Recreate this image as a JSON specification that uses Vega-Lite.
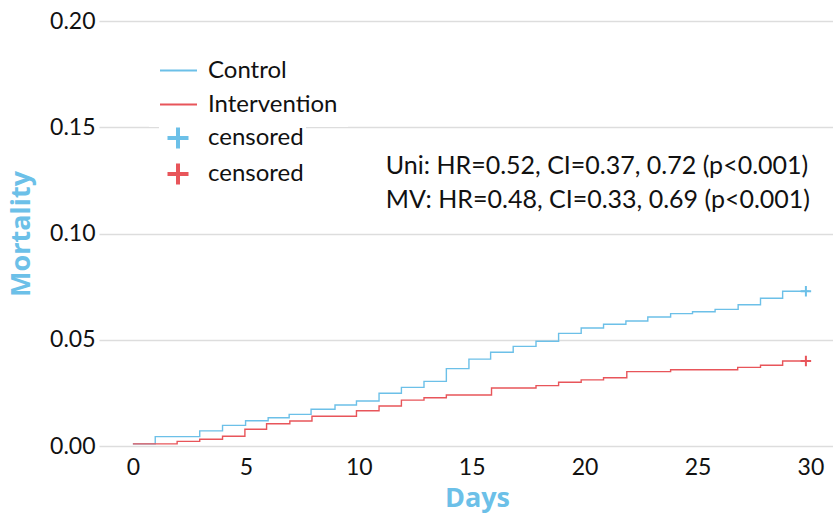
{
  "$schema": "https://vega.github.io/schema/vega-lite/v6.json",
  "autosize": "none",
  "width": 734,
  "height": 425,
  "padding": {"left": 99, "top": 21, "right": 0, "bottom": 67},
  "background": "white",
  "config": {
    "font": "Lato",
    "view": {"stroke": null},
    "axis": {"labelFont": "Lato", "labelFontSize": 23, "labelColor": "#111111", "titleFont": "Open Sans", "titleFontWeight": "bold", "titleFontSize": 27, "titleColor": "#6cc0e8", "domain": false, "ticks": false},
    "legend": {"labelFont": "Lato", "labelFontSize": 24, "labelColor": "#111111", "padding": 10, "fillColor": "white", "labelOffset": 10, "rowPadding": 2, "symbolSize": 1369, "title": null, "orient": "none"}
  },
  "resolve": {"scale": {"color": "independent"}},
  "layer": [
    {
      "data": {"values": [
        {"day": 0, "value": 0.001, "group": "Control"},
        {"day": 0.99, "value": 0.0044, "group": "Control"},
        {"day": 2.96, "value": 0.0071, "group": "Control"},
        {"day": 3.97, "value": 0.0097, "group": "Control"},
        {"day": 4.99, "value": 0.0119, "group": "Control"},
        {"day": 5.99, "value": 0.0133, "group": "Control"},
        {"day": 6.92, "value": 0.0149, "group": "Control"},
        {"day": 7.89, "value": 0.0173, "group": "Control"},
        {"day": 8.95, "value": 0.0193, "group": "Control"},
        {"day": 9.9, "value": 0.0212, "group": "Control"},
        {"day": 10.9, "value": 0.0248, "group": "Control"},
        {"day": 11.89, "value": 0.0276, "group": "Control"},
        {"day": 12.89, "value": 0.0304, "group": "Control"},
        {"day": 13.88, "value": 0.0364, "group": "Control"},
        {"day": 14.88, "value": 0.0409, "group": "Control"},
        {"day": 15.84, "value": 0.0441, "group": "Control"},
        {"day": 16.84, "value": 0.0469, "group": "Control"},
        {"day": 17.85, "value": 0.0493, "group": "Control"},
        {"day": 18.85, "value": 0.053, "group": "Control"},
        {"day": 19.85, "value": 0.0555, "group": "Control"},
        {"day": 20.84, "value": 0.0573, "group": "Control"},
        {"day": 21.83, "value": 0.0588, "group": "Control"},
        {"day": 22.8, "value": 0.0607, "group": "Control"},
        {"day": 23.81, "value": 0.0623, "group": "Control"},
        {"day": 24.78, "value": 0.0632, "group": "Control"},
        {"day": 25.78, "value": 0.0643, "group": "Control"},
        {"day": 26.8, "value": 0.0665, "group": "Control"},
        {"day": 27.79, "value": 0.0695, "group": "Control"},
        {"day": 28.77, "value": 0.0728, "group": "Control"},
        {"day": 29.96, "value": 0.0728, "group": "Control"},
        {"day": 0, "value": 0.001, "group": "Intervention"},
        {"day": 1.96, "value": 0.0022, "group": "Intervention"},
        {"day": 2.96, "value": 0.0032, "group": "Intervention"},
        {"day": 3.97, "value": 0.0046, "group": "Intervention"},
        {"day": 4.96, "value": 0.0079, "group": "Intervention"},
        {"day": 5.92, "value": 0.0105, "group": "Intervention"},
        {"day": 6.95, "value": 0.0118, "group": "Intervention"},
        {"day": 7.93, "value": 0.014, "group": "Intervention"},
        {"day": 9.9, "value": 0.0166, "group": "Intervention"},
        {"day": 10.9, "value": 0.0188, "group": "Intervention"},
        {"day": 11.89, "value": 0.0216, "group": "Intervention"},
        {"day": 12.89, "value": 0.0227, "group": "Intervention"},
        {"day": 13.88, "value": 0.024, "group": "Intervention"},
        {"day": 15.88, "value": 0.0273, "group": "Intervention"},
        {"day": 17.85, "value": 0.0284, "group": "Intervention"},
        {"day": 18.85, "value": 0.03, "group": "Intervention"},
        {"day": 19.85, "value": 0.0311, "group": "Intervention"},
        {"day": 20.84, "value": 0.0321, "group": "Intervention"},
        {"day": 21.87, "value": 0.035, "group": "Intervention"},
        {"day": 23.81, "value": 0.0359, "group": "Intervention"},
        {"day": 26.78, "value": 0.037, "group": "Intervention"},
        {"day": 27.79, "value": 0.038, "group": "Intervention"},
        {"day": 28.77, "value": 0.04, "group": "Intervention"},
        {"day": 29.96, "value": 0.04, "group": "Intervention"}
      ]},
      "mark": {"type": "line", "interpolate": "step-after", "strokeWidth": 1.4},
      "encoding": {
        "x": {"field": "day", "type": "quantitative", "scale": {"domain": [-1.5, 31], "nice": false, "zero": false},
          "axis": {"values": [0, 5, 10, 15, 20, 25, 30], "grid": false, "title": "Days", "labelPadding": 10, "titlePadding": 6, "titleX": 378}},
        "y": {"field": "value", "type": "quantitative", "scale": {"domain": [0, 0.2], "nice": false},
          "axis": {"values": [0, 0.05, 0.1, 0.15, 0.2], "format": ".2f", "grid": true, "gridColor": "#dddddd", "gridWidth": 1.5, "labelPadding": 4, "title": "Mortality", "titlePadding": 14}},
        "color": {"field": "group", "type": "nominal",
          "scale": {"domain": ["Control", "Intervention"], "range": ["#6cc0e8", "#e8555a"]},
          "legend": {"legendX": 50, "legendY": 20, "symbolType": "stroke", "symbolStrokeWidth": 2}}
      }
    },
    {
      "data": {"values": [
        {"day": 29.8, "value": 0.0728, "cgroup": "censored "},
        {"day": 29.8, "value": 0.04, "cgroup": "censored"}
      ]},
      "mark": {"type": "point", "shape": "M-1,0L1,0M0,-1L0,1", "size": 110, "strokeWidth": 2, "filled": false, "opacity": 1},
      "encoding": {
        "x": {"field": "day", "type": "quantitative"},
        "y": {"field": "value", "type": "quantitative"},
        "color": {"field": "cgroup", "type": "nominal",
          "scale": {"domain": ["censored ", "censored"], "range": ["#6cc0e8", "#e8555a"]},
          "legend": {"legendX": 60, "legendY": 98, "padding": 2, "rowPadding": -12, "labelOffset": 13, "symbolSize": 900, "symbolType": "M-0.7,0L0.7,0M0,-0.7L0,0.7", "symbolStrokeWidth": 4, "symbolOpacity": 1}}
      }
    },
    {
      "data": {"values": [
        {"day": 11.2, "value": 0.1318, "label": "Uni: HR=0.52, CI=0.37, 0.72 (p<0.001)"},
        {"day": 11.2, "value": 0.1158, "label": "MV: HR=0.48, CI=0.33, 0.69 (p<0.001)"}
      ]},
      "mark": {"type": "text", "align": "left", "baseline": "middle", "fontSize": 25, "font": "Lato", "color": "#111111"},
      "encoding": {
        "x": {"field": "day", "type": "quantitative"},
        "y": {"field": "value", "type": "quantitative"},
        "text": {"field": "label"}
      }
    }
  ]
}
